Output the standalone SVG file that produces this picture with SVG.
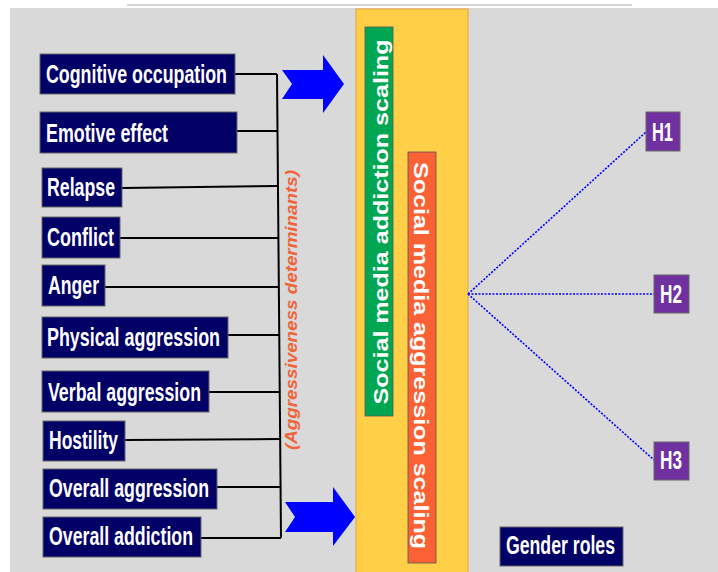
<svg xmlns="http://www.w3.org/2000/svg" width="718" height="572" viewBox="0 0 718 572">
  <style>
    .box { fill: #000066; stroke: #666666; stroke-width: 1; }
    .hyp { fill: #7030A0; stroke: #666666; stroke-width: 1; }
    .lbl { font-family: "Liberation Sans", Arial, sans-serif; font-weight: bold; font-size: 25px; fill: #ffffff; }
    .hl { font-family: "Liberation Sans", Arial, sans-serif; font-weight: bold; font-size: 25px; fill: #ffffff; }
    .vt { font-family: "Liberation Sans", Arial, sans-serif; font-weight: bold; font-size: 21px; fill: #ffffff; }
    .link { stroke: #000000; stroke-width: 2; fill: none; }
    .dot { stroke: #0000ff; stroke-width: 1.6; stroke-dasharray: 2 1.5; fill: none; }
    .arrow { fill: #0000ff; }
  </style>

  <!-- canvas -->
  <rect x="0" y="0" width="718" height="572" fill="#ffffff"/>
  <line x1="127" y1="5" x2="632" y2="5" stroke="#c8c8c8" stroke-width="1.5"/>
  <rect x="10" y="8" width="708" height="564" fill="#d9d9d9"/>

  <!-- scaling band -->
  <g id="scaling-band">
    <rect x="356" y="9" width="112" height="570" fill="#ffcf48" stroke="#e8a23c" stroke-width="1"/>
  </g>
  <g id="addiction-scaling">
    <rect x="365" y="27" width="28" height="389" fill="#00a651" stroke="#555555" stroke-width="0.8"/>
    <text class="vt" transform="translate(388 222) rotate(-90)" text-anchor="middle" textLength="365" lengthAdjust="spacingAndGlyphs">Social media addiction scaling</text>
  </g>
  <g id="aggression-scaling">
    <rect x="408" y="152" width="28" height="411" fill="#fa6135" stroke="#555555" stroke-width="0.8"/>
    <text class="vt" transform="translate(414 355.5) rotate(90)" text-anchor="middle" textLength="387" lengthAdjust="spacingAndGlyphs">Social media aggression scaling</text>
  </g>

  <!-- connectors -->
  <g id="connectors">
    <path class="link" d="M277 74 L281 538"/>
    <path class="link" d="M235 74 H277"/>
    <path class="link" d="M237 131 H278"/>
    <path class="link" d="M122 188 L278 186"/>
    <path class="link" d="M120 238 H278"/>
    <path class="link" d="M105 287 H279"/>
    <path class="link" d="M228 335 H279"/>
    <path class="link" d="M209 392 H280"/>
    <path class="link" d="M125 440 L280 439"/>
    <path class="link" d="M217 487 H281"/>
    <path class="link" d="M201 538 H281"/>
    <polygon class="arrow" points="282,70 323,70 323,55 344,84 323,113 323,99 282,99 292,84"/>
    <polygon class="arrow" points="285,502 333,502 333,487 355,517 333,546 333,532 285,532 295,517"/>
    <path class="dot" d="M468 294 L646 132"/>
    <path class="dot" d="M468 294 L654 294"/>
    <path class="dot" d="M468 294 L654 460"/>
  </g>

  <text font-family="Liberation Sans, Arial, sans-serif" font-weight="bold" font-style="italic" font-size="17" fill="#f0643a" transform="translate(297 310) rotate(-90)" text-anchor="middle" textLength="280" lengthAdjust="spacingAndGlyphs">(Aggressiveness determinants)</text>

  <!-- determinant nodes -->
  <g id="cognitive-occupation">
    <rect class="box" x="40" y="54" width="195" height="40"/>
    <text class="lbl" x="46" y="83" textLength="181" lengthAdjust="spacingAndGlyphs">Cognitive occupation</text>
  </g>
  <g id="emotive-effect">
    <rect class="box" x="40" y="112" width="197" height="41"/>
    <text class="lbl" x="46" y="142" textLength="122" lengthAdjust="spacingAndGlyphs">Emotive effect</text>
  </g>
  <g id="relapse">
    <rect class="box" x="42" y="168" width="80" height="39"/>
    <text class="lbl" x="47" y="196" textLength="68" lengthAdjust="spacingAndGlyphs">Relapse</text>
  </g>
  <g id="conflict">
    <rect class="box" x="42" y="217" width="78" height="41"/>
    <text class="lbl" x="47" y="246" textLength="67" lengthAdjust="spacingAndGlyphs">Conflict</text>
  </g>
  <g id="anger">
    <rect class="box" x="42" y="265" width="63" height="41"/>
    <text class="lbl" x="48" y="294" textLength="51" lengthAdjust="spacingAndGlyphs">Anger</text>
  </g>
  <g id="physical-aggression">
    <rect class="box" x="42" y="317" width="186" height="41"/>
    <text class="lbl" x="47" y="346" textLength="173" lengthAdjust="spacingAndGlyphs">Physical aggression</text>
  </g>
  <g id="verbal-aggression">
    <rect class="box" x="42" y="371" width="167" height="41"/>
    <text class="lbl" x="48" y="401" textLength="153" lengthAdjust="spacingAndGlyphs">Verbal aggression</text>
  </g>
  <g id="hostility">
    <rect class="box" x="43" y="421" width="82" height="40"/>
    <text class="lbl" x="49" y="449" textLength="69" lengthAdjust="spacingAndGlyphs">Hostility</text>
  </g>
  <g id="overall-aggression">
    <rect class="box" x="43" y="469" width="174" height="40"/>
    <text class="lbl" x="49" y="497" textLength="160" lengthAdjust="spacingAndGlyphs">Overall aggression</text>
  </g>
  <g id="overall-addiction">
    <rect class="box" x="43" y="517" width="158" height="40"/>
    <text class="lbl" x="49" y="545" textLength="144" lengthAdjust="spacingAndGlyphs">Overall addiction</text>
  </g>

  <!-- hypotheses -->
  <g id="h1">
    <rect class="hyp" x="646" y="112" width="34" height="39"/>
    <text class="hl" x="652" y="141" textLength="21" lengthAdjust="spacingAndGlyphs">H1</text>
  </g>
  <g id="h2">
    <rect class="hyp" x="654" y="275" width="35" height="38"/>
    <text class="hl" x="660" y="303" textLength="22" lengthAdjust="spacingAndGlyphs">H2</text>
  </g>
  <g id="h3">
    <rect class="hyp" x="654" y="442" width="35" height="38"/>
    <text class="hl" x="660" y="469" textLength="22" lengthAdjust="spacingAndGlyphs">H3</text>
  </g>
  <g id="gender-roles">
    <rect class="box" x="500" y="527" width="123" height="39"/>
    <text class="lbl" x="506" y="554" font-size="24" textLength="109" lengthAdjust="spacingAndGlyphs">Gender roles</text>
  </g>
</svg>
